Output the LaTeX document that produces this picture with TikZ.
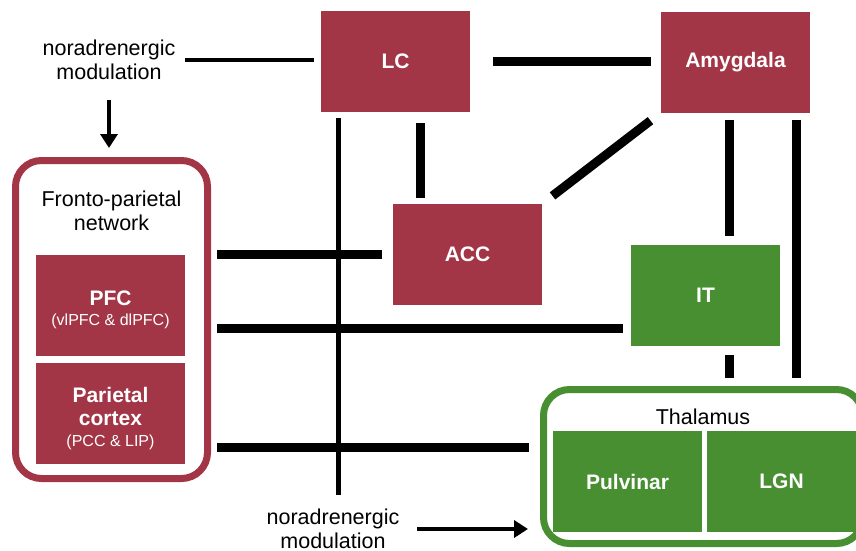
\documentclass[tikz,border=0pt]{standalone}
\usepackage{fontspec}
\setmainfont{Liberation Sans}
\usetikzlibrary{arrows.meta,positioning}
\definecolor{wine}{RGB}{162,54,71}
\definecolor{leaf}{RGB}{72,143,49}
\newcommand\subtxt[1]{{\fontsize{16}{19}\selectfont\mdseries #1}}
\tikzset{
  box/.style={fill=#1,text=white,inner sep=0pt,minimum width=149pt,minimum height=101pt,
    align=center,font=\fontsize{21}{24}\selectfont\bfseries},
  box/.default=wine,
  frame/.style={draw=#1,line width=7pt,rounded corners=26pt,fill=white,inner sep=0pt},
  frame/.default=wine,
  link/.style={line width=9pt},
  wire/.style={line width=#1},
  wire/.default=4.5pt,
  mod/.style={-{Triangle[length=14pt,width=17pt]},line width=4pt},
  tag/.style={font=\fontsize{21.5}{24}\selectfont,align=center,inner sep=0pt},
}
\begin{document}
\begin{tikzpicture}[x=1pt,y=-1pt]
  \useasboundingbox (0,0) rectangle (856,550);
  \clip (0,0) rectangle (856,550);
  % groups
  \node[frame,minimum width=192pt,minimum height=318pt] (fpn) at (111.5,319.5) {};
  \node[frame=leaf,minimum width=319pt,minimum height=154pt] (thal) at (703,466.5) {};
  \node[tag] (fpnlab) at (111.5,211) {Fronto-parietal\\network};
  \node[tag] (thallab) at (703,417) {Thalamus};
  % areas
  \node[box] (lc) at (395.5,61.5) {LC};
  \node[box] (amy) at (735.5,62) {Amygdala};
  \node[box] (acc) at (467.5,254.5) {ACC};
  \node[box=leaf] (it) at (705.5,295.5) {IT};
  \node[box] (pfc) at (110.5,305.5) {\rule{0pt}{24pt}PFC\\[-4pt]\subtxt{(vlPFC \& dlPFC)}};
  \node[box] (par) at (110.5,413.5) {\rule{0pt}{26pt}Parietal\\[-1pt]cortex\\[-3pt]\subtxt{(PCC \& LIP)}};
  \node[box=leaf] (pul) at (627.5,481.5) {Pulvinar};
  \node[box=leaf] (lgn) at (781.5,481.5) {LGN};
  % modulation labels
  \node[tag] (nor1) at (109,60) {noradrenergic\\modulation};
  \node[tag] (nor2) at (333,529) {noradrenergic\\modulation};
  % connections
  \coordinate (lcend) at (338,495);
  \coordinate (itin) at ([yshift=-32.5pt]it.west);
  \coordinate (thin) at ([yshift=19.5pt]thal.west);
  \draw[wire=4pt,shorten <=9pt,shorten >=7pt] (nor1.east) -- (nor1.east -| lc.west);
  \draw[mod,shorten <=20pt,shorten >=9pt] (nor1.south) -- (nor1.south |- fpn.north);
  \draw[link,shorten <=23pt,shorten >=10pt] (lc.east) -- (lc.east -| amy.west);
  \draw[wire=5pt,shorten <=6pt] (lc.south -| lcend) -- (lcend);
  \draw[link,shorten <=11pt,shorten >=6pt] ([xshift=24.5pt]lc.south) -- ([xshift=24.5pt]lc.south |- acc.north);
  \draw[link,shorten <=13pt,shorten >=13pt] (amy.south west) -- (acc.north east);
  \draw[link,shorten <=7pt,shorten >=9pt] ([xshift=-6.5pt]amy.south) -- ([xshift=-6.5pt]amy.south |- it.north);
  \draw[link,shorten <=7pt,shorten >=8pt] ([xshift=60.5pt]amy.south) -- ([xshift=60.5pt]amy.south |- thal.north);
  \draw[link,shorten <=9pt,shorten >=8pt] ([xshift=23.5pt]it.south) -- ([xshift=23.5pt]it.south |- thal.north);
  \draw[link,shorten <=6pt,shorten >=11pt] (fpn.east |- acc.west) -- (acc.west);
  \draw[link,shorten <=6pt,shorten >=8pt] (fpn.east |- itin) -- (itin);
  \draw[link,shorten <=6pt,shorten >=11pt] (fpn.east |- thin) -- (thin);
  \draw[mod,shorten <=17.5pt,shorten >=12pt] (nor2.east) -- (nor2.east -| thal.west);
\end{tikzpicture}
\end{document}
